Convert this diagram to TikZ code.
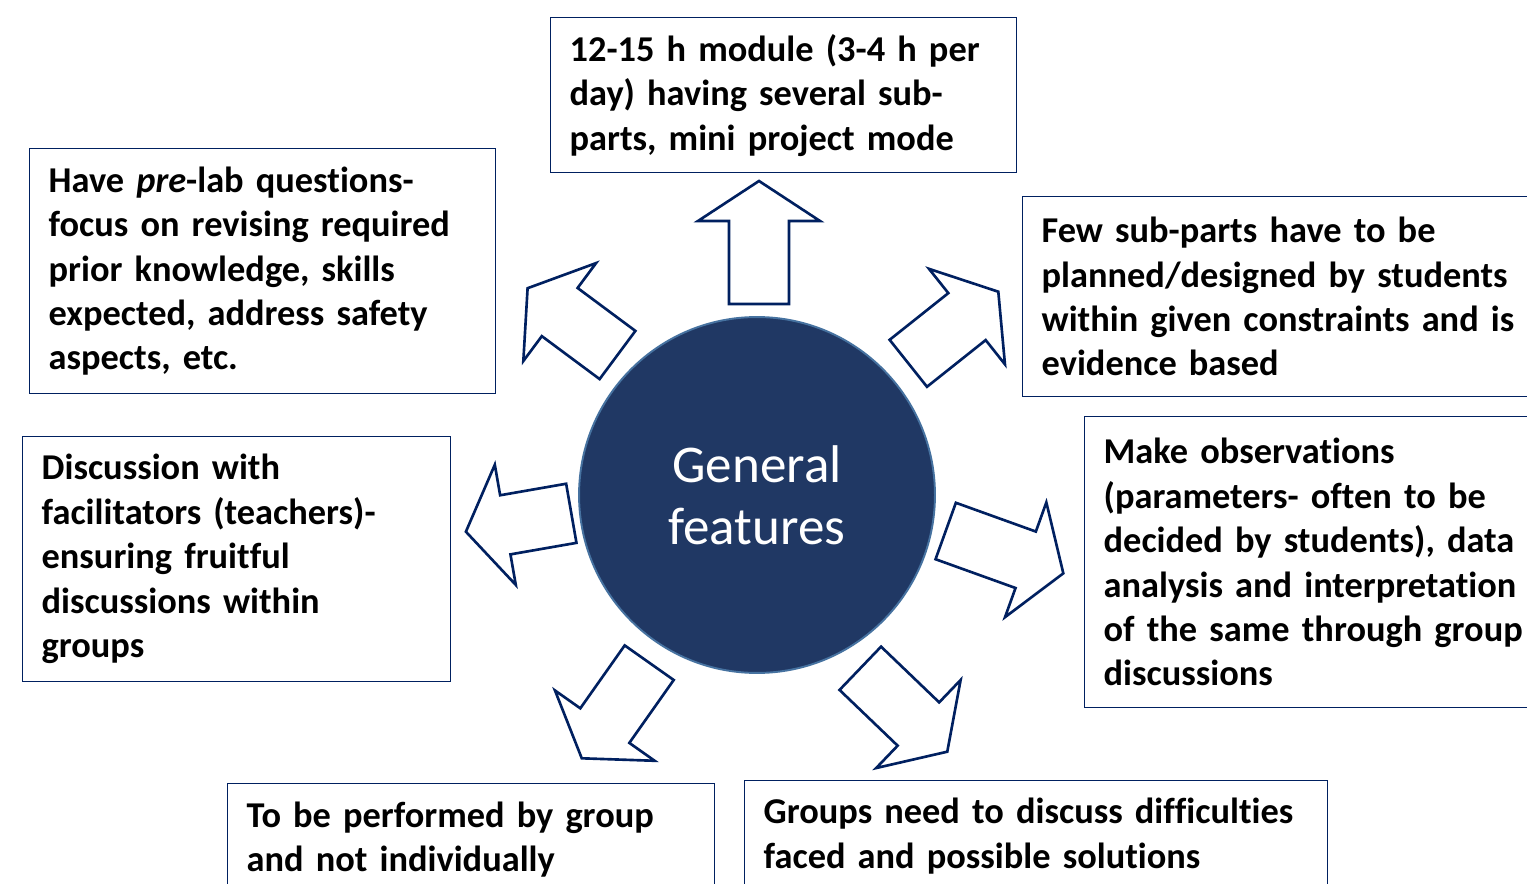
\documentclass[tikz,border=0pt]{standalone}
\usepackage{fontspec}
\setmainfont{Carlito}[Ligatures=NoCommon]
\usepackage{tikz}

\definecolor{darknavy}{RGB}{0,32,96}
\definecolor{hubfill}{RGB}{32,56,100}
\definecolor{hubline}{RGB}{70,114,160}

\newcommand{\featfont}{\fontsize{20.7}{25.3}\selectfont\bfseries}

% hollow block arrow: start point, direction, length
\newcommand{\featarrow}[3]{%
  \draw[featarrow, shift={#1}, rotate=#2]
    (0,-30) -- (#3-40,-30) -- (#3-40,-61) -- (#3,0) -- (#3-40,61) -- (#3-40,30) -- (0,30) -- cycle;}

\begin{document}
\begin{tikzpicture}[x=0.02cm,y=-0.02cm,
    featbox/.style 2 args={draw=darknavy, line width=0.75pt, fill=white, anchor=north west,
      inner xsep=0.38cm, inner ysep=0pt, minimum width={#1*0.02cm}, minimum height={#2*0.02cm},
      text width={(#1-38)*0.02cm}, align=left, font=\featfont},
    hub/.style={circle, fill=hubfill, draw=hubline, line width=1.1pt, minimum size=7.12cm,
      inner sep=0pt, text=white, align=center, font=\fontsize{30.2}{35.5}\selectfont},
    featarrow/.style={draw=darknavy, line width=1.5pt, fill=white, line join=miter}]
	\useasboundingbox (0,0) rectangle (1527,884);
	\fill[white] (0,0) rectangle (1527,884);
	\clip (0,0) rectangle (1527,884);

	\node[hub] (hub) at (757,495) {General\\features};

	\node[featbox={466}{155}] (mod) at (550,17) {12-15 h module (3-4 h per\\day) having several sub-\\parts, mini project mode};
	\node[featbox={466}{245}] (prelab) at (29,148) {Have \textit{pre}-lab questions-\\focus on revising required\\prior knowledge, skills\\expected, address safety\\aspects, etc.};
	\node[featbox={525}{200}] (plan) at (1022,196) {Few sub-parts have to be\\planned/designed by students\\within given constraints and is\\evidence based};
	\node[featbox={428}{245}] (disc) at (22,436) {Discussion with\\facilitators (teachers)-\\ensuring fruitful\\discussions within\\groups};
	\node[featbox={465}{291}] (obs) at (1084,416) {Make observations\\(parameters- often to be\\decided by students), data\\analysis and interpretation\\of the same through group\\discussions};
	\node[featbox={487}{112}] (grp) at (227,783) {To be performed by group\\and not individually};
	\node[featbox={583}{111}] (diff) at (744,780) {Groups need to discuss difficulties\\faced and possible solutions};

	\featarrow{(759,304)}{90}{123}
	\featarrow{(617.5,355)}{143.4}{112}
	\featarrow{(908.3,363.3)}{38.5}{115}
	\featarrow{(571.3,513.3)}{189.9}{107}
	\featarrow{(945.7,531)}{-19.8}{125}
	\featarrow{(649.2,662.7)}{234.8}{117}
	\featarrow{(860.3,668.3)}{-43.8}{120.5}
\end{tikzpicture}
\end{document}
